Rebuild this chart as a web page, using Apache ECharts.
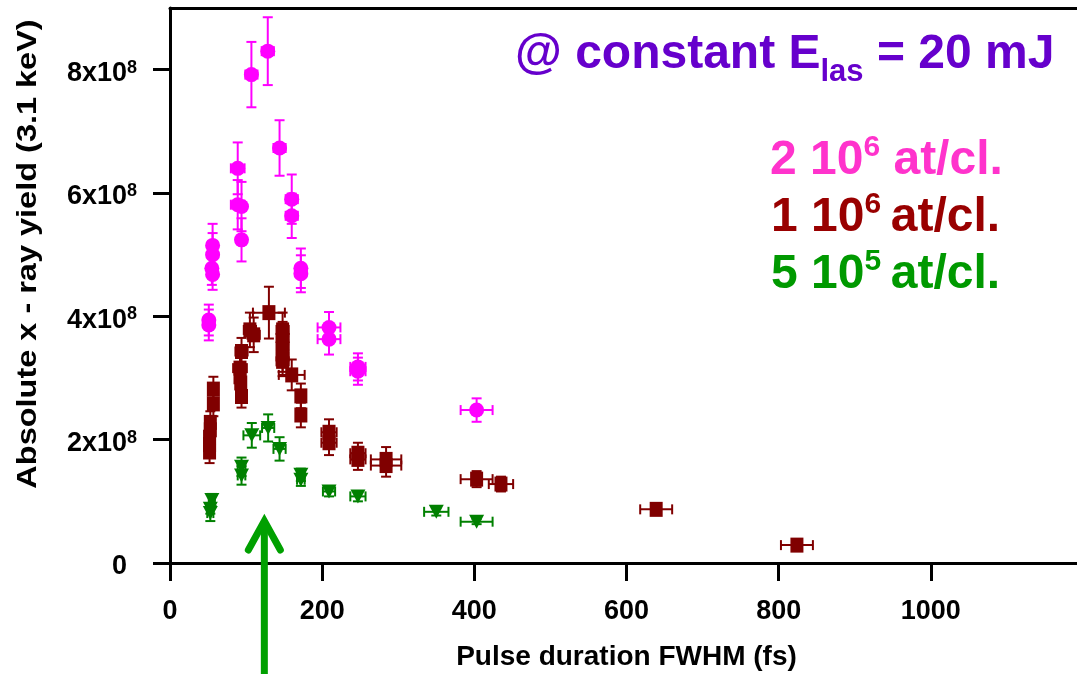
<!DOCTYPE html>
<html><head><meta charset="utf-8">
<script src="https://cdn.jsdelivr.net/npm/echarts@6/dist/echarts.min.js"></script>
<style>html,body{margin:0;padding:0;background:#fff}#c{width:1077px;height:674px}</style>
</head><body><div id="c"></div>
<script>
// x: pulse duration FWHM (fs); y: absolute x-ray yield in units of 1e8; errors in same units
const pinkX    = [51, 51, 56, 56, 55, 56, 89, 89, 94, 94, 107, 128.5, 144, 160, 160, 172, 172, 209, 209, 247, 247, 403];
const pinkY    = [3.94, 3.86, 5.15, 5.00, 4.78, 4.68, 6.40, 5.81, 5.78, 5.24, 7.92, 8.30, 6.73, 5.90, 5.63, 4.78, 4.69, 3.82, 3.63, 3.18, 3.11, 2.48];
const pinkXErr = [3, 3, 3, 3, 3, 3, 9, 9, 6, 6, 8, 8, 8, 8, 8, 5, 5, 15, 15, 10, 10, 21];
const pinkYErr = [0.25, 0.25, 0.35, 0.35, 0.27, 0.25, 0.42, 0.4, 0.4, 0.35, 0.53, 0.55, 0.45, 0.40, 0.36, 0.32, 0.3, 0.25, 0.25, 0.22, 0.22, 0.19];

const brownX    = [52, 52, 52, 53, 53, 57, 57, 94, 93, 92, 92, 94, 105, 110, 130, 148, 148, 148, 148, 148, 160, 172, 172, 209, 209, 247, 247, 284, 284, 403, 435, 639, 824];
const brownY    = [1.80, 1.92, 2.04, 2.16, 2.28, 2.58, 2.82, 2.70, 2.92, 3.02, 3.16, 3.43, 3.78, 3.70, 4.06, 3.78, 3.65, 3.51, 3.35, 3.27, 3.05, 2.71, 2.40, 2.12, 1.95, 1.78, 1.68, 1.68, 1.58, 1.36, 1.28, 0.87, 0.29];
const brownXErr = [4, 4, 4, 4, 4, 5, 5, 6, 6, 6, 9, 8, 8, 8, 21, 8, 8, 8, 8, 8, 17, 5, 5, 10, 10, 10, 10, 20, 20, 21, 16, 21, 21];
const brownYErr = [0.18, 0.18, 0.18, 0.18, 0.18, 0.2, 0.2, 0.18, 0.2, 0.2, 0.2, 0.22, 0.28, 0.28, 0.42, 0.28, 0.26, 0.25, 0.25, 0.24, 0.25, 0.2, 0.2, 0.21, 0.2, 0.17, 0.17, 0.2, 0.18, 0.13, 0.12, 0.05, 0.04];

const greenX    = [53, 53, 55, 94, 94, 107.5, 129, 144, 172, 172, 209, 247, 350, 403];
const greenY    = [0.81, 0.88, 1.02, 1.56, 1.42, 2.07, 2.19, 1.85, 1.43, 1.35, 1.16, 1.08, 0.83, 0.67];
const greenXErr = [4, 4, 4, 5, 5, 11, 8, 8, 5, 5, 8, 10, 16, 21];
const greenYErr = [0.13, 0.08, 0.1, 0.15, 0.15, 0.2, 0.22, 0.19, 0.1, 0.1, 0.08, 0.08, 0.06, 0.04];

// green arrow marking the optimum pulse duration
const arrowX = 124, arrowTipY = 0.73, arrowBaseY = -1.9;

const xTicks = [0, 200, 400, 600, 800, 1000];
const yTicks = [0, 2, 4, 6, 8];
const yExp = 8;

const FONT = '"Liberation Sans", Arial, sans-serif';
const PINK = '#ff00ff', BROWN = '#800000', GREEN = '#008000';

function rows(xs, ys, xe, ye) { return xs.map((x, i) => [x, ys[i], xe[i], ye[i]]); }

function errSeries(data, color) {
  return {
    type: 'custom', data: data, z: 2, silent: true,
    renderItem: function (params, api) {
      const x = api.value(0), y = api.value(1), ex = api.value(2), ey = api.value(3);
      const t = api.coord([x, y + ey]), b = api.coord([x, y - ey]);
      const l = api.coord([x - ex, y]), r = api.coord([x + ex, y]);
      const cap = 5;
      const st = { stroke: color, lineWidth: 2, fill: null };
      const ln = (x1, y1, x2, y2) => ({ type: 'line', shape: { x1, y1, x2, y2 }, style: st });
      return { type: 'group', children: [
        ln(t[0], t[1], b[0], b[1]),
        ln(t[0] - cap, t[1], t[0] + cap, t[1]),
        ln(b[0] - cap, b[1], b[0] + cap, b[1]),
        ln(l[0], l[1], r[0], r[1]),
        ln(l[0], l[1] - cap, l[0], l[1] + cap),
        ln(r[0], r[1] - cap, r[0], r[1] + cap)
      ]};
    }
  };
}

const chart = echarts.init(document.getElementById('c'), null, { renderer: 'canvas' });
chart.setOption({
  animation: false,
  backgroundColor: '#fff',
  grid: { left: 170, right: -6, top: 8, bottom: 111, containLabel: false, outerBoundsMode: 'none' },
  xAxis: [{
    type: 'value', min: 0, max: 1200, position: 'bottom',
    axisLine: { show: true, onZero: false, lineStyle: { color: '#000', width: 3 } },
    axisTick: { show: true, customValues: xTicks, length: 18, lineStyle: { color: '#000', width: 3 } },
    axisLabel: { customValues: xTicks, formatter: function (v) { return String(v); }, margin: 35, color: '#000', fontSize: 27, fontWeight: 'bold', fontFamily: FONT },
    splitLine: { show: false },
    name: 'Pulse duration FWHM (fs)', nameLocation: 'middle', nameGap: 80,
    nameTextStyle: { color: '#000', fontSize: 28, fontWeight: 'bold', fontFamily: FONT }
  }, {
    type: 'value', min: 0, max: 1200, position: 'top',
    axisLine: { show: true, onZero: false, lineStyle: { color: '#000', width: 3 } },
    axisTick: { show: false }, axisLabel: { show: false }, splitLine: { show: false }
  }],
  yAxis: {
    type: 'value', min: 0, max: 9,
    axisLine: { show: true, onZero: false, lineStyle: { color: '#000', width: 3 } },
    axisTick: { show: true, customValues: yTicks, length: 17, lineStyle: { color: '#000', width: 3 } },
    axisLabel: {
      customValues: yTicks, margin: 33, padding: [8, 0, 0, 0],
      formatter: function (v) { return v === 0 ? '{z|0}' : '{a|' + v + 'x10}{b|' + yExp + '}'; },
      rich: {
        a: { fontSize: 27, fontWeight: 'bold', color: '#000', fontFamily: FONT, lineHeight: 30 },
        b: { fontSize: 18, fontWeight: 'bold', color: '#000', fontFamily: FONT, lineHeight: 18, verticalAlign: 'top' },
        z: { fontSize: 27, fontWeight: 'bold', color: '#000', fontFamily: FONT, lineHeight: 30, padding: [0, 10, 0, 0] }
      }
    },
    splitLine: { show: false }
  },
  graphic: [
    { type: 'text', x: 28, y: 254, rotation: Math.PI / 2, scaleX: 1.16,
      style: { text: 'Absolute x - ray yield (3.1 keV)', fill: '#000', fontSize: 28, fontWeight: 'bold', fontFamily: FONT, align: 'center', verticalAlign: 'middle' } },
    { type: 'text', x: 515, y: 22,
      style: { text: '{m|@ constant E}{s|las}{m| = 20 mJ}', verticalAlign: 'top', align: 'left',
        rich: {
          m: { fontSize: 48, fontWeight: 'bold', fontFamily: FONT, fill: '#6600cc', color: '#6600cc', lineHeight: 66 },
          s: { fontSize: 31, fontWeight: 'bold', fontFamily: FONT, fill: '#6600cc', color: '#6600cc', lineHeight: 30, verticalAlign: 'bottom' }
        } } },
    { type: 'text', x: 770, y: 133,
      style: { text: '{n|2 10}{p|6}{n| at/cl.}', verticalAlign: 'top', align: 'left',
        rich: {
          n: { fontSize: 48, fontWeight: 'bold', fontFamily: FONT, fill: '#ff33cc', color: '#ff33cc', lineHeight: 56 },
          p: { fontSize: 30, fontWeight: 'bold', fontFamily: FONT, fill: '#ff33cc', color: '#ff33cc', lineHeight: 44, verticalAlign: 'top' }
        } } },
    { type: 'text', x: 771, y: 190,
      style: { text: '{n|1 10}{p|6}{n|\u2009at/cl.}', verticalAlign: 'top', align: 'left',
        rich: {
          n: { fontSize: 48, fontWeight: 'bold', fontFamily: FONT, fill: '#990000', color: '#990000', lineHeight: 56 },
          p: { fontSize: 30, fontWeight: 'bold', fontFamily: FONT, fill: '#990000', color: '#990000', lineHeight: 44, verticalAlign: 'top' }
        } } },
    { type: 'text', x: 771, y: 247,
      style: { text: '{n|5 10}{p|5}{n|\u2009at/cl.}', verticalAlign: 'top', align: 'left',
        rich: {
          n: { fontSize: 48, fontWeight: 'bold', fontFamily: FONT, fill: '#009900', color: '#009900', lineHeight: 56 },
          p: { fontSize: 30, fontWeight: 'bold', fontFamily: FONT, fill: '#009900', color: '#009900', lineHeight: 44, verticalAlign: 'top' }
        } } }
  ],
  series: [
    errSeries(rows(pinkX, pinkY, pinkXErr, pinkYErr), PINK),
    errSeries(rows(brownX, brownY, brownXErr, brownYErr), BROWN),
    errSeries(rows(greenX, greenY, greenXErr, greenYErr), GREEN),
    { type: 'scatter', z: 3, data: pinkX.map((x, i) => [x, pinkY[i]]), symbol: 'circle', symbolSize: 15, itemStyle: { color: PINK, opacity: 1 } },
    { type: 'scatter', z: 3, data: brownX.map((x, i) => [x, brownY[i]]), symbol: 'rect', symbolSize: [13, 15], itemStyle: { color: BROWN, opacity: 1 } },
    { type: 'scatter', z: 3, data: greenX.map((x, i) => [x, greenY[i]]), symbol: 'triangle', symbolRotate: 180, symbolSize: [15, 14], itemStyle: { color: GREEN, opacity: 1 } },
    {
      type: 'custom', z: 5, silent: true, clip: false,
      data: [[arrowX, arrowTipY, arrowBaseY]],
      renderItem: function (params, api) {
        const tip = api.coord([api.value(0), api.value(1)]);
        const base = api.coord([api.value(0), api.value(2)]);
        const st = { stroke: '#00a000', lineWidth: 7, fill: null, lineCap: 'round', lineJoin: 'miter' };
        return { type: 'group', children: [
          { type: 'line', shape: { x1: base[0], y1: base[1], x2: tip[0], y2: tip[1] + 4 }, style: { stroke: '#00a000', lineWidth: 7 } },
          { type: 'polyline', shape: { points: [[tip[0] - 16, tip[1] + 32], [tip[0], tip[1] + 3], [tip[0] + 16, tip[1] + 32]] }, style: st }
        ]};
      }
    }
  ]
});
</script></body></html>
